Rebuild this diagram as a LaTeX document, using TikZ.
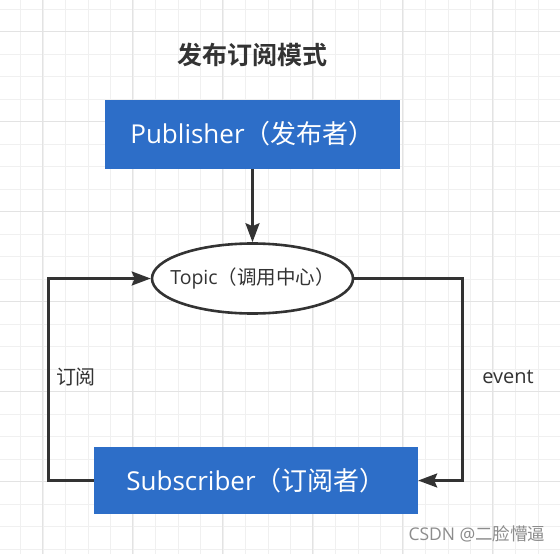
\documentclass[tikz,border=0pt]{standalone}
\usepackage{fontspec}
\setmainfont{Open Sans}
\newfontfamily\cjk{Noto Sans CJK SC}[BoldFont={Noto Sans CJK SC Bold}]
\usetikzlibrary{arrows.meta,shapes.geometric}
\definecolor{boxblue}{HTML}{2D6EC8}
\definecolor{ink}{HTML}{333333}
\definecolor{gridminor}{HTML}{F0F0F0}
\definecolor{gridmajor}{HTML}{E3E3E3}
\tikzset{
  bluebox/.style={rectangle, fill=boxblue, draw=none, inner sep=0pt, text=white,
    font=\fontsize{26}{30}\selectfont},
  topicnode/.style={ellipse, draw=ink, line width=2.6pt, fill=white, inner sep=0pt,
    text=ink, font=\fontsize{19.5}{23}\selectfont},
  conn/.style={draw=ink, line width=2.6pt,
    -{Stealth[length=19pt,width=14pt,inset=3pt]}},
  lbl/.style={text=ink, inner sep=0pt, font=\fontsize{20}{24}\selectfont},
}
\begin{document}
\begin{tikzpicture}[x=1pt,y=-1pt]
\useasboundingbox (0,0) rectangle (560,554);
\fill[white] (0,0) rectangle (560,554);
% grid
\foreach \i in {0,...,24} {
  \draw[gridminor, line width=1pt] ({20.7+22.5*\i},0) -- ({20.7+22.5*\i},554);
}
\foreach \j in {0,...,24} {
  \draw[gridminor, line width=1pt] (0,{9.3+22.5*\j}) -- (560,{9.3+22.5*\j});
}
\foreach \i in {0,...,5} {
  \draw[gridmajor, line width=1pt] ({42.7+90*\i},0) -- ({42.7+90*\i},554);
}
\foreach \j in {0,...,5} {
  \draw[gridmajor, line width=1pt] (0,{31.7+90*\j}) -- (560,{31.7+90*\j});
}
% title
\node[text=ink, inner sep=0pt, font=\fontsize{25}{30}\selectfont\cjk\bfseries] (title) at (252,55) {发布订阅模式};
% nodes
\node[bluebox, minimum width=295pt, minimum height=69pt] (pub) at (252.5,134) {Publisher{\cjk（发布者）}};
\node[topicnode, minimum width=201pt, minimum height=70pt] (topic) at (252.5,278.5) {\makebox[0pt]{Topic{\cjk（调用中心）}}};
\node[bluebox, minimum width=324pt, minimum height=67pt] (sub) at (256,480.5) {Subscriber{\cjk（订阅者）}};
\coordinate (lc) at (48.3,278.5);
\coordinate (rc) at (462.5,480.5);
% connectors
\draw[conn] (pub.south) -- (topic.north);
\draw[conn] (sub.west) -| (lc) -- (topic.west);
\draw[conn] (topic.east) -| (rc) -- (sub.east);
% labels
\node[lbl] (lsub) at (76,377) {\cjk 订阅};
\node[lbl] (levent) at (508,377) {event};
\node[text=black!45, inner sep=0pt, font=\fontsize{17.5}{20}\selectfont] (wm) at (477,534) {CSDN @{\cjk 二脸懵逼}};
\end{tikzpicture}
\end{document}
